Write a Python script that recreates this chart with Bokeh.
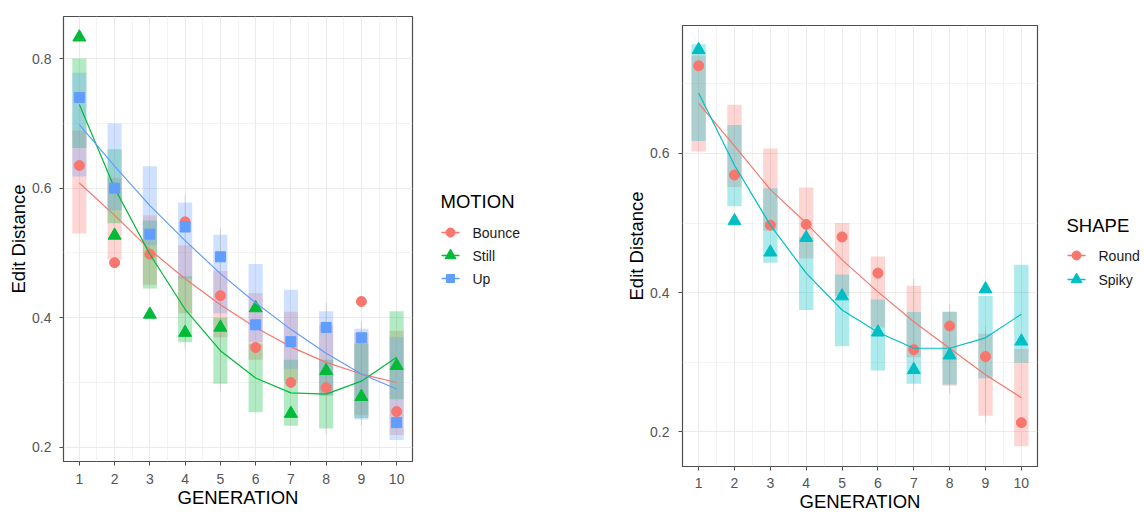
from bokeh.plotting import figure
from bokeh.layouts import row, column
from bokeh.models import FixedTicker, ColumnDataSource, Range1d
from bokeh.core.properties import value
from bokeh.embed import file_html
from bokeh.resources import INLINE

# ---------------- data ----------------
GEN = [1, 2, 3, 4, 5, 6, 7, 8, 9, 10]

# Left panel: MOTION
MOTION_LABELS = ["Bounce", "Still", "Up"]
bounce_pt = [0.635, 0.485, 0.498, 0.548, 0.434, 0.354, 0.300, 0.292, 0.425, 0.255]
still_pt = [0.833, 0.527, 0.405, 0.377, 0.385, 0.415, 0.252, 0.318, 0.278, 0.326]
up_pt = [0.740, 0.600, 0.529, 0.540, 0.494, 0.389, 0.363, 0.385, 0.369, 0.238]

bounce_fit = [0.608, 0.558, 0.505, 0.460, 0.420, 0.385, 0.355, 0.331, 0.313, 0.300]
still_fit = [0.729, 0.600, 0.498, 0.413, 0.349, 0.307, 0.284, 0.282, 0.302, 0.339]
up_fit = [0.698, 0.634, 0.573, 0.519, 0.468, 0.423, 0.382, 0.345, 0.313, 0.290]

bounce_lo = [0.530, 0.490, 0.451, 0.407, 0.370, 0.335, 0.302, 0.280, 0.250, 0.219]
bounce_hi = [0.689, 0.616, 0.558, 0.512, 0.472, 0.438, 0.409, 0.388, 0.377, 0.380]
still_lo = [0.662, 0.546, 0.445, 0.362, 0.298, 0.254, 0.233, 0.229, 0.245, 0.274]
still_hi = [0.800, 0.660, 0.550, 0.464, 0.400, 0.360, 0.335, 0.335, 0.360, 0.410]
up_lo = [0.618, 0.566, 0.512, 0.460, 0.407, 0.362, 0.321, 0.280, 0.243, 0.211]
up_hi = [0.778, 0.700, 0.634, 0.578, 0.528, 0.483, 0.443, 0.410, 0.383, 0.370]

motion_whisk_gen = [4, 5, 8, 9]
motion_whisk_lo = [0.352, 0.286, 0.220, 0.234]
motion_whisk_hi = [0.589, 0.538, 0.423, 0.394]

# Right panel: SHAPE
SHAPE_LABELS = ["Round", "Spiky"]
round_pt = [0.726, 0.569, 0.497, 0.498, 0.480, 0.428, 0.318, 0.352, 0.308, 0.213]
spiky_pt = [0.749, 0.503, 0.458, 0.479, 0.395, 0.343, 0.289, 0.310, 0.405, 0.330]

round_fit = [0.672, 0.611, 0.548, 0.500, 0.447, 0.401, 0.358, 0.320, 0.282, 0.249]
spiky_fit = [0.687, 0.583, 0.497, 0.428, 0.375, 0.343, 0.320, 0.320, 0.335, 0.369]

round_lo = [0.603, 0.552, 0.489, 0.449, 0.395, 0.350, 0.307, 0.266, 0.223, 0.179]
round_hi = [0.741, 0.670, 0.607, 0.551, 0.500, 0.452, 0.410, 0.373, 0.341, 0.319]
spiky_lo = [0.618, 0.524, 0.443, 0.375, 0.323, 0.288, 0.269, 0.268, 0.277, 0.299]
spiky_hi = [0.757, 0.641, 0.550, 0.480, 0.426, 0.390, 0.372, 0.372, 0.395, 0.440]

shape_whisk_gen = [7, 8, 9]
shape_whisk_lo = [0.259, 0.255, 0.213]
shape_whisk_hi = [0.420, 0.384, 0.351]

X_TICKS = GEN
LEFT_Y_TICKS = [0.2, 0.4, 0.6, 0.8]
LEFT_Y_MINOR = [0.3, 0.5, 0.7]
RIGHT_Y_TICKS = [0.2, 0.4, 0.6]
RIGHT_Y_MINOR = [0.3, 0.5, 0.7]

RED = "#F8766D"
GREEN = "#00BA38"
BLUE = "#619CFF"
TEAL = "#00BFC4"
FONT = "Liberation Sans"
H = 517


def style(p, yticks, yminor, xstand, ystand):
    p.xaxis.ticker = FixedTicker(ticks=X_TICKS, minor_ticks=[g + 0.5 for g in X_TICKS[:-1]])
    p.yaxis.ticker = FixedTicker(ticks=yticks, minor_ticks=yminor)
    p.xgrid.grid_line_color = "#EBEBEB"
    p.ygrid.grid_line_color = "#EBEBEB"
    p.xgrid.grid_line_width = 1.1
    p.ygrid.grid_line_width = 1.1
    p.xgrid.minor_grid_line_color = "#F0F0F0"
    p.ygrid.minor_grid_line_color = "#F0F0F0"
    p.xgrid.minor_grid_line_width = 0.8
    p.ygrid.minor_grid_line_width = 0.8
    p.outline_line_color = "#4D4D4D"
    p.outline_line_width = 1.2
    p.background_fill_color = "white"
    p.border_fill_color = "white"
    for ax in (p.xaxis, p.yaxis):
        ax.axis_line_color = None
        ax.major_tick_line_color = "#4D4D4D"
        ax.major_tick_out = 4
        ax.major_tick_in = 0
        ax.minor_tick_line_color = None
        ax.major_label_text_font = FONT
        ax.major_label_text_font_size = "14px"
        ax.major_label_text_color = "#555555"
        ax.axis_label_text_font = FONT
        ax.axis_label_text_font_size = "18.5px"
        ax.axis_label_text_font_style = "normal"
        ax.axis_label_text_color = "black"
        ax.axis_label_standoff = 0
    p.yaxis.major_label_standoff = ystand
    p.xaxis.major_label_standoff = xstand
    p.xaxis.axis_label = "GENERATION"
    p.yaxis.axis_label = "Edit Distance"


def add_series(p, pts, fit, lo, hi, color, box_alpha):
    src = ColumnDataSource(dict(gen=GEN, pt=pts, fit=fit, lo=lo, hi=hi))
    p.vbar(x="gen", bottom="lo", top="hi", width=0.4, source=src,
           fill_color=color, fill_alpha=box_alpha, line_color=None)
    return src


def add_marks(p, src, color, marker, size):
    p.line(x="gen", y="fit", source=src, line_color=color, line_width=1.2)
    p.scatter(x="gen", y="pt", source=src, marker=marker, size=size,
              fill_color=color, line_color=color)


def legend_fig(width, title, labels, colors, markers, sizes, x0, title_y, row_y, pitch):
    """A separate, axis-less figure (1 unit = 1 px) that holds a ggplot-style legend."""
    lf = figure(width=width, height=H, x_range=Range1d(0, width), y_range=Range1d(H, 0),
                output_backend="svg", toolbar_location=None,
                x_axis_location=None, y_axis_location=None,
                min_border_left=0, min_border_right=0, min_border_top=0, min_border_bottom=0)
    lf.grid.visible = False
    lf.outline_line_color = None
    lf.background_fill_color = "white"
    lf.border_fill_color = "white"
    n = len(labels)
    ys = [row_y + i * pitch for i in range(n)]
    lf.text(x=[x0], y=[title_y], text=[title], text_font=value(FONT), text_font_size="18.5px",
            text_baseline="middle", text_align="left", text_color="black")
    lf.segment(x0=[x0 + 1] * n, y0=ys, x1=[x0 + 19] * n, y1=ys, line_color=colors, line_width=1.3)
    for i in range(n):
        lf.scatter(x=[x0 + 10], y=[ys[i]], marker=markers[i], size=sizes[i],
                   fill_color=colors[i], line_color=colors[i])
    lf.text(x=[x0 + 32] * n, y=ys, text=labels, text_font=value(FONT), text_font_size="14px",
            text_baseline="middle", text_align="left", text_color="#1A1A1A")
    return lf


# ---------------- left panel ----------------
p1 = figure(frame_width=349, frame_height=445, x_range=(0.55, 10.45), y_range=(0.178, 0.865),
            output_backend="svg", toolbar_location=None,
            min_border_left=63, min_border_top=16, min_border_bottom=H - 16 - 445, min_border_right=2)
style(p1, LEFT_Y_TICKS, LEFT_Y_MINOR, 8, 8)

s_b = add_series(p1, bounce_pt, bounce_fit, bounce_lo, bounce_hi, RED, 0.3)
s_s = add_series(p1, still_pt, still_fit, still_lo, still_hi, GREEN, 0.3)
s_u = add_series(p1, up_pt, up_fit, up_lo, up_hi, BLUE, 0.3)
p1.segment(x0=motion_whisk_gen, y0=motion_whisk_lo, x1=motion_whisk_gen, y1=motion_whisk_hi,
           line_color="#9A9A9A", line_alpha=0.35, line_width=1)
add_marks(p1, s_b, RED, "circle", 10)
add_marks(p1, s_s, GREEN, "triangle", 13)
add_marks(p1, s_u, BLUE, "square", 10)

leg1 = legend_fig(206, "MOTION", MOTION_LABELS, [RED, GREEN, BLUE],
                  ["circle", "triangle", "square"], [9, 11, 8], 26, 201, 232, 23)

# ---------------- right panel ----------------
p2 = figure(frame_width=355, frame_height=441, x_range=(0.55, 10.45), y_range=(0.15, 0.784),
            output_backend="svg", toolbar_location=None,
            min_border_left=62, min_border_top=25, min_border_bottom=H - 25 - 441, min_border_right=2)
style(p2, RIGHT_Y_TICKS, RIGHT_Y_MINOR, 7, 9)

s_r = add_series(p2, round_pt, round_fit, round_lo, round_hi, RED, 0.3)
s_k = add_series(p2, spiky_pt, spiky_fit, spiky_lo, spiky_hi, TEAL, 0.32)
p2.segment(x0=shape_whisk_gen, y0=shape_whisk_lo, x1=shape_whisk_gen, y1=shape_whisk_hi,
           line_color="#9A9A9A", line_alpha=0.35, line_width=1)
add_marks(p2, s_r, RED, "circle", 10)
add_marks(p2, s_k, TEAL, "triangle", 13)

leg2 = legend_fig(104, "SHAPE", SHAPE_LABELS, [RED, TEAL],
                  ["circle", "triangle"], [9, 11], 27, 225, 255, 24)

layout = row(column(p1), column(leg1), column(p2), column(leg2))
open("out.html", "w").write(file_html(layout, INLINE))
